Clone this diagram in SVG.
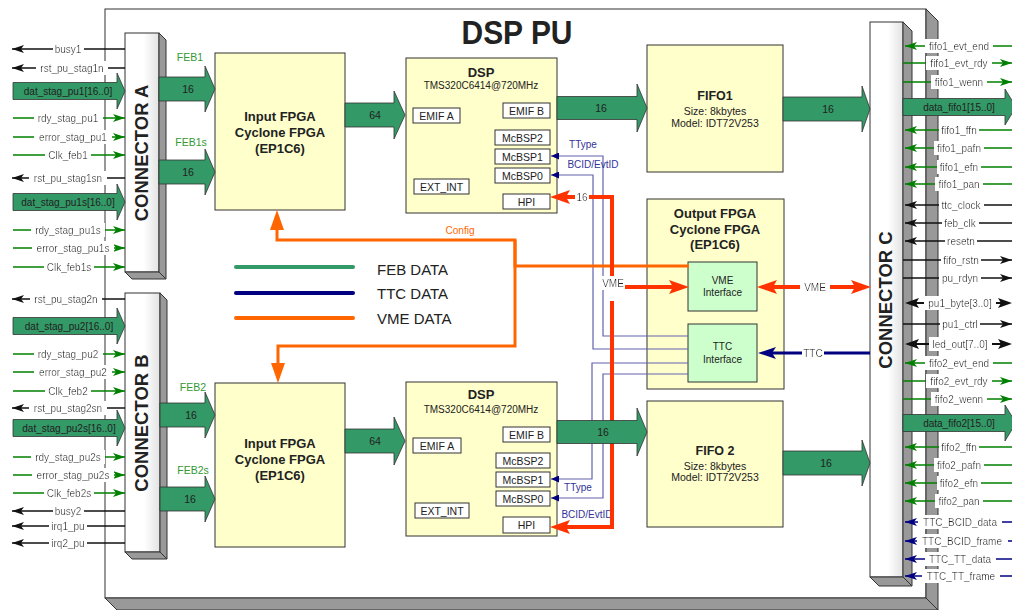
<svg xmlns="http://www.w3.org/2000/svg" width="1012" height="610" viewBox="0 0 1012 610">
<defs>
<style>
text{font-family:"Liberation Sans",Arial,Helvetica,sans-serif;fill:#222}
.b{font-weight:bold}
.m{text-anchor:middle}
.lb{font-size:10px;text-anchor:middle;filter:url(#bg)}
.tn{fill:#333399}
.to{fill:#ff6600}
.tg{fill:#339933}
.box{fill:#ffffcc;stroke:#333;stroke-width:1}
.ibox{fill:#fff;stroke:#333;stroke-width:1}
.gbox{fill:#ccffcc;stroke:#333;stroke-width:1}
.side{fill:#999;stroke:#333;stroke-width:1}
.cn{fill:url(#cg);stroke:#333;stroke-width:1}
.bus{fill:#339966;stroke:#333;stroke-width:0.8}
.bk{stroke:#111;stroke-width:1.3;fill:none}
.bk2{stroke:#111;stroke-width:2;fill:none}
.gr{stroke:#008000;stroke-width:1.3;fill:none}
.nv{stroke:#000080;stroke-width:1.3;fill:none}
.bl{stroke:#6262b0;stroke-width:1.2;fill:none}
.red{stroke:#ff3300;stroke-width:4;fill:none}
.or{stroke:#ff6600;stroke-width:3;fill:none}
.ttc{stroke:#000080;stroke-width:3;fill:none}
.lg{stroke-width:4;stroke-linecap:round;fill:none}
</style>
<filter id="bg" x="-0.06" y="-0.08" width="1.12" height="1.16">
<feFlood flood-color="#fff" result="f"/>
<feMerge><feMergeNode in="f"/><feMergeNode in="SourceGraphic"/></feMerge>
</filter>
<linearGradient id="cg" x1="0" y1="0" x2="1" y2="0">
<stop offset="0" stop-color="#fff"/><stop offset="0.55" stop-color="#fff"/><stop offset="1" stop-color="#e2e2e2"/>
</linearGradient>
<marker id="aBk" viewBox="0 0 12 8" refX="12" refY="4" markerWidth="12" markerHeight="8" markerUnits="userSpaceOnUse" orient="auto"><path d="M0,0L12,4L0,8L3,4z" fill="#111"/></marker>
<marker id="aGr" viewBox="0 0 12 8" refX="12" refY="4" markerWidth="12" markerHeight="8" markerUnits="userSpaceOnUse" orient="auto"><path d="M0,0L12,4L0,8L3,4z" fill="#008000"/></marker>
<marker id="aNv" viewBox="0 0 12 8" refX="12" refY="4" markerWidth="12" markerHeight="8" markerUnits="userSpaceOnUse" orient="auto"><path d="M0,0L12,4L0,8L3,4z" fill="#000080"/></marker>
<marker id="aBkL" viewBox="0 0 14 10" refX="7" refY="5" markerWidth="14" markerHeight="10" markerUnits="userSpaceOnUse" orient="auto"><path d="M0,0L14,5L0,10L3,5z" fill="#111"/></marker>
<marker id="aRed" viewBox="0 0 20 14" refX="10" refY="7" markerWidth="20" markerHeight="14" markerUnits="userSpaceOnUse" orient="auto"><path d="M0,0L20,7L0,14L4,7z" fill="#ff3300"/></marker>
<marker id="aOr" viewBox="0 0 20 14" refX="10" refY="7" markerWidth="20" markerHeight="14" markerUnits="userSpaceOnUse" orient="auto"><path d="M0,0L20,7L0,14z" fill="#ff6600"/></marker>
<marker id="aTtc" viewBox="0 0 18 12" refX="9" refY="6" markerWidth="18" markerHeight="12" markerUnits="userSpaceOnUse" orient="auto"><path d="M0,0L18,6L0,12L4,6z" fill="#000080"/></marker>
<marker id="aBl" viewBox="0 0 8 7" refX="8" refY="3.5" markerWidth="8" markerHeight="7" markerUnits="userSpaceOnUse" orient="auto"><path d="M0,0L8,3.5L0,7z" fill="#000080"/></marker>
</defs>

<rect width="1012" height="610" fill="#fff"/>

<!-- processing-unit board with 3D edges -->
<g id="board">
<rect x="105" y="9" width="821" height="589" fill="#fff" stroke="#333"/>
<polygon class="side" points="926,9 938,21 938,610 926,598"/>
<polygon class="side" points="105,598 926,598 938,610 117,610"/>
<text x="517" y="44" class="b m" font-size="34" textLength="111" lengthAdjust="spacingAndGlyphs">DSP PU</text>
</g>

<g id="connector-a">
<rect class="cn" x="125" y="33" width="34" height="239"/>
<polygon class="side" points="159,33 166,40 166,279 159,272"/>
<polygon class="side" points="125,272 159,272 166,279 132,279"/>
<text transform="translate(148,153) rotate(-90)" class="b m" font-size="18.5">CONNECTOR A</text>
</g>

<g id="connector-b">
<rect class="cn" x="125" y="293" width="35" height="259"/>
<polygon class="side" points="160,293 167,300 167,559 160,552"/>
<polygon class="side" points="125,552 160,552 167,559 132,559"/>
<text transform="translate(148,423) rotate(-90)" class="b m" font-size="18.5">CONNECTOR B</text>
</g>

<g id="connector-c">
<rect class="cn" x="870" y="22" width="33" height="555"/>
<polygon class="side" points="903,22 912,31 912,586 903,577"/>
<polygon class="side" points="870,577 903,577 912,586 879,586"/>
<text transform="translate(892,300) rotate(-90)" class="b m" font-size="18.5">CONNECTOR C</text>
</g>

<g id="input-fpga-1">
<rect class="box" x="215" y="53" width="130" height="157"/>
<text x="280" y="121" class="b m" font-size="13">Input FPGA</text>
<text x="280" y="137" class="b m" font-size="13">Cyclone FPGA</text>
<text x="280" y="153" class="b m" font-size="13">(EP1C6)</text>
</g>

<g id="input-fpga-2">
<rect class="box" x="215" y="383" width="130" height="164"/>
<text x="280" y="448" class="b m" font-size="13">Input FPGA</text>
<text x="280" y="464" class="b m" font-size="13">Cyclone FPGA</text>
<text x="280" y="480" class="b m" font-size="13">(EP1C6)</text>
</g>

<g id="dsp-1">
<rect class="box" x="406" y="58" width="151" height="155"/>
<text x="481" y="76.5" class="b m" font-size="13">DSP</text>
<text x="481" y="89" class="m" font-size="10">TMS320C6414@720MHz</text>
<rect class="ibox" x="413" y="108" width="47" height="15"/><text x="436.5" y="119.5" class="m" font-size="10.5">EMIF A</text>
<rect class="ibox" x="503" y="103" width="47" height="15"/><text x="526.5" y="114.5" class="m" font-size="10.5">EMIF B</text>
<rect class="ibox" x="495" y="130" width="55" height="15"/><text x="522.5" y="141.5" class="m" font-size="10.5">McBSP2</text>
<rect class="ibox" x="495" y="149" width="55" height="15"/><text x="522.5" y="160.5" class="m" font-size="10.5">McBSP1</text>
<rect class="ibox" x="495" y="168" width="55" height="15"/><text x="522.5" y="179.5" class="m" font-size="10.5">McBSP0</text>
<rect class="ibox" x="414" y="179" width="55" height="15"/><text x="441.5" y="190.5" class="m" font-size="10.5">EXT_INT</text>
<rect class="ibox" x="503" y="194" width="47" height="15"/><text x="526.5" y="205.5" class="m" font-size="10.5">HPI</text>
</g>

<g id="dsp-2">
<rect class="box" x="406" y="382" width="151" height="154"/>
<text x="481" y="399" class="b m" font-size="13">DSP</text>
<text x="481" y="413" class="m" font-size="10">TMS320C6414@720MHz</text>
<rect class="ibox" x="503" y="427" width="47" height="15"/><text x="526.5" y="438.5" class="m" font-size="10.5">EMIF B</text>
<rect class="ibox" x="413" y="438" width="48" height="15"/><text x="437" y="449.5" class="m" font-size="10.5">EMIF A</text>
<rect class="ibox" x="496" y="453" width="54" height="15"/><text x="523" y="464.5" class="m" font-size="10.5">McBSP2</text>
<rect class="ibox" x="496" y="472" width="54" height="15"/><text x="523" y="483.5" class="m" font-size="10.5">McBSP1</text>
<rect class="ibox" x="496" y="491" width="54" height="15"/><text x="523" y="502.5" class="m" font-size="10.5">McBSP0</text>
<rect class="ibox" x="415" y="503" width="54" height="15"/><text x="442" y="514.5" class="m" font-size="10.5">EXT_INT</text>
<rect class="ibox" x="503" y="517" width="47" height="16"/><text x="526.5" y="529" class="m" font-size="10.5">HPI</text>
</g>

<g id="fifo-1">
<rect class="box" x="647" y="45" width="136" height="127"/>
<text x="715" y="99.5" class="b m" font-size="12.5">FIFO1</text>
<text x="715" y="114.5" class="m" font-size="10.5">Size: 8kbytes</text>
<text x="715" y="127" class="m" font-size="10.5">Model: IDT72V253</text>
</g>

<g id="fifo-2">
<rect class="box" x="647" y="401" width="136" height="126"/>
<text x="715" y="454.5" class="b m" font-size="12.5">FIFO 2</text>
<text x="715" y="469.5" class="m" font-size="10.5">Size: 8kbytes</text>
<text x="715" y="481" class="m" font-size="10.5">Model: IDT72V253</text>
</g>

<g id="output-fpga">
<rect class="box" x="647" y="199" width="137" height="190"/>
<text x="715" y="217.5" class="b m" font-size="13">Output FPGA</text>
<text x="715" y="233.5" class="b m" font-size="13">Cyclone FPGA</text>
<text x="715" y="249" class="b m" font-size="13">(EP1C6)</text>
<g id="vme-interface">
<rect class="gbox" x="688" y="262" width="69" height="49"/>
<text x="722.5" y="283.5" class="m" font-size="10">VME</text>
<text x="722.5" y="296" class="m" font-size="10">Interface</text>
</g>
<g id="ttc-interface">
<rect class="gbox" x="688" y="324" width="69" height="58"/>
<text x="722.5" y="349.5" class="m" font-size="10">TTC</text>
<text x="722.5" y="363" class="m" font-size="10">Interface</text>
</g>
</g>

<g id="legend">
<path class="lg" d="M236,267H353" stroke="#339966"/>
<path class="lg" d="M236,293H353" stroke="#000080"/>
<path class="lg" d="M236,318H353" stroke="#ff6600"/>
<text x="377" y="275" font-size="15">FEB DATA</text>
<text x="377" y="299" font-size="15">TTC DATA</text>
<text x="377" y="323.5" font-size="15">VME DATA</text>
</g>

<g id="links">
<!-- TTC serial links to McBSP ports -->
<path class="bl" d="M688,336H603V156H551" marker-end="url(#aBl)"/>
<path class="bl" d="M688,349H593V175H551" marker-end="url(#aBl)"/>
<path class="bl" d="M688,363H592V479H551" marker-end="url(#aBl)"/>
<path class="bl" d="M688,374H603V498H551" marker-end="url(#aBl)"/>
<text x="583" y="147.5" class="m tn" font-size="10">TType</text>
<text x="593" y="167.5" class="m tn" font-size="10">BCID/EvtID</text>
<text x="578" y="490.5" class="m tn" font-size="10">TType</text>
<text x="587" y="517.5" class="m tn" font-size="10">BCID/EvtID</text>

<!-- configuration path -->
<path class="or" d="M689,266H515V240H277V220" marker-end="url(#aOr)"/>
<path class="or" d="M515,240V346H278V373" marker-end="url(#aOr)"/>
<text x="460" y="233.5" class="m to" font-size="10">Config</text>

<!-- VME / HPI bus -->
<path class="red" d="M612,279V197H560" marker-end="url(#aRed)"/>
<path class="red" d="M612,301V527H560" marker-end="url(#aRed)"/>
<text x="582" y="200.5" class="lb">16</text>
<text x="613" y="286.5" class="lb">VME</text>
<path class="red" d="M625,287H679" marker-end="url(#aRed)"/>
<path class="red" d="M800,287H767" marker-end="url(#aRed)"/>
<path class="red" d="M830,287H861" marker-end="url(#aRed)"/>
<text x="815" y="290.5" class="lb">VME</text>
<path class="ttc" d="M870,353H767" marker-end="url(#aTtc)"/>
<text x="813" y="356.5" class="lb">TTC</text>

<!-- connector A signals -->
<path class="bk" d="M125,49H12" marker-end="url(#aBk)"/><text x="68" y="52.5" class="lb">busy1</text>
<path class="bk" d="M125,68H12" marker-end="url(#aBk)"/><text x="72" y="71.5" class="lb">rst_pu_stag1n</text>
<polygon class="bus" points="13,82.5 117,82.5 117,73 125,91 117,109 117,99.5 13,99.5"/><text x="68" y="94.5" class="m" font-size="10">dat_stag_pu1[16..0]</text>
<path class="gr" d="M13,118H125" marker-end="url(#aGr)"/><text x="68" y="121.5" class="lb">rdy_stag_pu1</text>
<path class="gr" d="M13,137H125" marker-end="url(#aGr)"/><text x="73" y="140.5" class="lb">error_stag_pu1</text>
<path class="gr" d="M13,155H125" marker-end="url(#aGr)"/><text x="68" y="158.5" class="lb">Clk_feb1</text>
<path class="bk" d="M125,178H12" marker-end="url(#aBk)"/><text x="68" y="181.5" class="lb">rst_pu_stag1sn</text>
<polygon class="bus" points="13,193.5 117,193.5 117,184 125,202 117,220 117,210.5 13,210.5"/><text x="68" y="205.5" class="m" font-size="10">dat_stag_pu1s[16..0]</text>
<path class="gr" d="M13,230H125" marker-end="url(#aGr)"/><text x="68" y="233.5" class="lb">rdy_stag_pu1s</text>
<path class="gr" d="M13,248H125" marker-end="url(#aGr)"/><text x="73" y="251.5" class="lb">error_stag_pu1s</text>
<path class="gr" d="M13,267H125" marker-end="url(#aGr)"/><text x="69" y="270.5" class="lb">Clk_feb1s</text>

<!-- connector B signals -->
<path class="bk" d="M125,299H12" marker-end="url(#aBk)"/><text x="66" y="302.5" class="lb">rst_pu_stag2n</text>
<polygon class="bus" points="13,317.5 117,317.5 117,308 125,326 117,344 117,334.5 13,334.5"/><text x="69" y="329.5" class="m" font-size="10">dat_stag_pu2[16..0]</text>
<path class="gr" d="M13,354H125" marker-end="url(#aGr)"/><text x="68" y="357.5" class="lb">rdy_stag_pu2</text>
<path class="gr" d="M13,372H125" marker-end="url(#aGr)"/><text x="73" y="375.5" class="lb">error_stag_pu2</text>
<path class="gr" d="M13,391H125" marker-end="url(#aGr)"/><text x="68" y="394.5" class="lb">Clk_feb2</text>
<path class="bk" d="M125,408H12" marker-end="url(#aBk)"/><text x="68" y="411.5" class="lb">rst_pu_stag2sn</text>
<polygon class="bus" points="13,419.5 117,419.5 117,410 125,428 117,446 117,436.5 13,436.5"/><text x="69" y="431.5" class="m" font-size="10">dat_stag_pu2s[16..0]</text>
<path class="gr" d="M13,457H125" marker-end="url(#aGr)"/><text x="68" y="460.5" class="lb">rdy_stag_pu2s</text>
<path class="gr" d="M13,475H125" marker-end="url(#aGr)"/><text x="73" y="478.5" class="lb">error_stag_pu2s</text>
<path class="gr" d="M13,493H125" marker-end="url(#aGr)"/><text x="69" y="496.5" class="lb">Clk_feb2s</text>
<path class="bk" d="M125,511H12" marker-end="url(#aBk)"/><text x="68" y="514.5" class="lb">busy2</text>
<path class="bk" d="M125,526H12" marker-end="url(#aBk)"/><text x="68" y="529.5" class="lb">irq1_pu</text>
<path class="bk" d="M125,543H12" marker-end="url(#aBk)"/><text x="68" y="546.5" class="lb">irq2_pu</text>

<!-- connector C signals -->
<path class="gr" d="M1012,46H905" marker-end="url(#aGr)"/><text x="959" y="49.5" class="lb">fifo1_evt_end</text>
<path class="gr" d="M903,63H1012" marker-end="url(#aGr)"/><text x="959" y="66.5" class="lb">fifo1_evt_rdy</text>
<path class="gr" d="M903,82H1012" marker-end="url(#aGr)"/><text x="959" y="85.5" class="lb">fifo1_wenn</text>
<polygon class="bus" points="903,98.5 1005,98.5 1005,89 1016,107 1005,125 1005,115.5 903,115.5"/><text x="959" y="110.5" class="m" font-size="10">data_fifo1[15..0]</text>
<path class="gr" d="M1012,130H905" marker-end="url(#aGr)"/><text x="959" y="133.5" class="lb">fifo1_ffn</text>
<path class="gr" d="M1012,148H905" marker-end="url(#aGr)"/><text x="959" y="151.5" class="lb">fifo1_pafn</text>
<path class="gr" d="M1012,167H905" marker-end="url(#aGr)"/><text x="959" y="170.5" class="lb">fifo1_efn</text>
<path class="gr" d="M1012,184H905" marker-end="url(#aGr)"/><text x="959" y="187.5" class="lb">fifo1_pan</text>
<path class="bk" d="M1012,205H905" marker-end="url(#aBk)"/><text x="961" y="208.5" class="lb">ttc_clock</text>
<path class="bk" d="M1012,223H905" marker-end="url(#aBk)"/><text x="960" y="226.5" class="lb">feb_clk</text>
<path class="bk" d="M1012,241H905" marker-end="url(#aBk)"/><text x="961" y="244.5" class="lb">resetn</text>
<path class="bk" d="M903,260H1012" marker-end="url(#aBk)"/><text x="961" y="263.5" class="lb">fifo_rstn</text>
<path class="bk" d="M903,278H1012" marker-end="url(#aBk)"/><text x="960" y="281.5" class="lb">pu_rdyn</text>
<path class="bk2" d="M960,303H912" marker-end="url(#aBkL)"/><path class="bk2" d="M960,303H1005" marker-end="url(#aBkL)"/><text x="960" y="306.5" class="lb">pu1_byte[3..0]</text>
<path class="bk" d="M903,324H1012" marker-end="url(#aBk)"/><text x="960" y="327.5" class="lb">pu1_ctrl</text>
<path class="bk2" d="M960,344H912" marker-end="url(#aBkL)"/><path class="bk2" d="M960,344H1005" marker-end="url(#aBkL)"/><text x="960" y="347.5" class="lb">led_out[7..0]</text>
<path class="gr" d="M1012,363H905" marker-end="url(#aGr)"/><text x="959" y="366.5" class="lb">fifo2_evt_end</text>
<path class="gr" d="M903,381H1012" marker-end="url(#aGr)"/><text x="959" y="384.5" class="lb">fifo2_evt_rdy</text>
<path class="gr" d="M903,399H1012" marker-end="url(#aGr)"/><text x="959" y="402.5" class="lb">fifo2_wenn</text>
<polygon class="bus" points="903,414.5 1005,414.5 1005,405 1016,423 1005,441 1005,431.5 903,431.5"/><text x="959" y="426.5" class="m" font-size="10">data_fifo2[15..0]</text>
<path class="gr" d="M1012,447H905" marker-end="url(#aGr)"/><text x="959" y="450.5" class="lb">fifo2_ffn</text>
<path class="gr" d="M1012,465H905" marker-end="url(#aGr)"/><text x="959" y="468.5" class="lb">fifo2_pafn</text>
<path class="gr" d="M1012,483H905" marker-end="url(#aGr)"/><text x="959" y="486.5" class="lb">fifo2_efn</text>
<path class="gr" d="M1012,501H905" marker-end="url(#aGr)"/><text x="959" y="504.5" class="lb">fifo2_pan</text>
<path class="nv" d="M1012,522H905" marker-end="url(#aNv)"/><text x="960" y="525.5" class="lb">TTC_BCID_data</text>
<path class="nv" d="M1012,541H905" marker-end="url(#aNv)"/><text x="962" y="544.5" class="lb">TTC_BCID_frame</text>
<path class="nv" d="M1012,559H905" marker-end="url(#aNv)"/><text x="960" y="562.5" class="lb">TTC_TT_data</text>
<path class="nv" d="M1012,576H905" marker-end="url(#aNv)"/><text x="961" y="579.5" class="lb">TTC_TT_frame</text>

<!-- FEB data buses -->
<polygon class="bus" points="159,77 205,77 205,66 215,89 205,112 205,101 159,101"/><text x="188" y="93" class="m" font-size="10.5">16</text>
<text x="190" y="61" class="m tg" font-size="10.5">FEB1</text>
<polygon class="bus" points="159,160 205,160 205,149 215,172 205,195 205,184 159,184"/><text x="188" y="176" class="m" font-size="10.5">16</text>
<text x="191" y="146" class="m tg" font-size="10.5">FEB1s</text>
<polygon class="bus" points="160,403 205,403 205,392 215,415 205,438 205,427 160,427"/><text x="191" y="419" class="m" font-size="10.5">16</text>
<text x="193" y="391" class="m tg" font-size="10.5">FEB2</text>
<polygon class="bus" points="160,487 205,487 205,476 215,499 205,522 205,511 160,511"/><text x="190" y="503" class="m" font-size="10.5">16</text>
<text x="193" y="474" class="m tg" font-size="10.5">FEB2s</text>

<!-- input FPGA to DSP -->
<polygon class="bus" points="345,103 394,103 394,91 405,115 394,139 394,127 345,127"/><text x="375" y="119" class="m" font-size="10.5">64</text>
<polygon class="bus" points="345,429 394,429 394,417 405,441 394,465 394,453 345,453"/><text x="375" y="445" class="m" font-size="10.5">64</text>

<!-- DSP to FIFO -->
<polygon class="bus" points="557,96.5 637,96.5 637,84 647,108 637,132 637,119.5 557,119.5"/><text x="601" y="112" class="m" font-size="10.5">16</text>
<polygon class="bus" points="557,420.5 637,420.5 637,408 647,432 637,456 637,443.5 557,443.5"/><text x="603" y="436" class="m" font-size="10.5">16</text>

<!-- FIFO to connector C -->
<polygon class="bus" points="783,97 862,97 862,86 870,109 862,132 862,121 783,121"/><text x="828" y="113" class="m" font-size="10.5">16</text>
<polygon class="bus" points="783,451 862,451 862,440 870,463 862,486 862,475 783,475"/><text x="826" y="467" class="m" font-size="10.5">16</text>
</g>
</svg>
